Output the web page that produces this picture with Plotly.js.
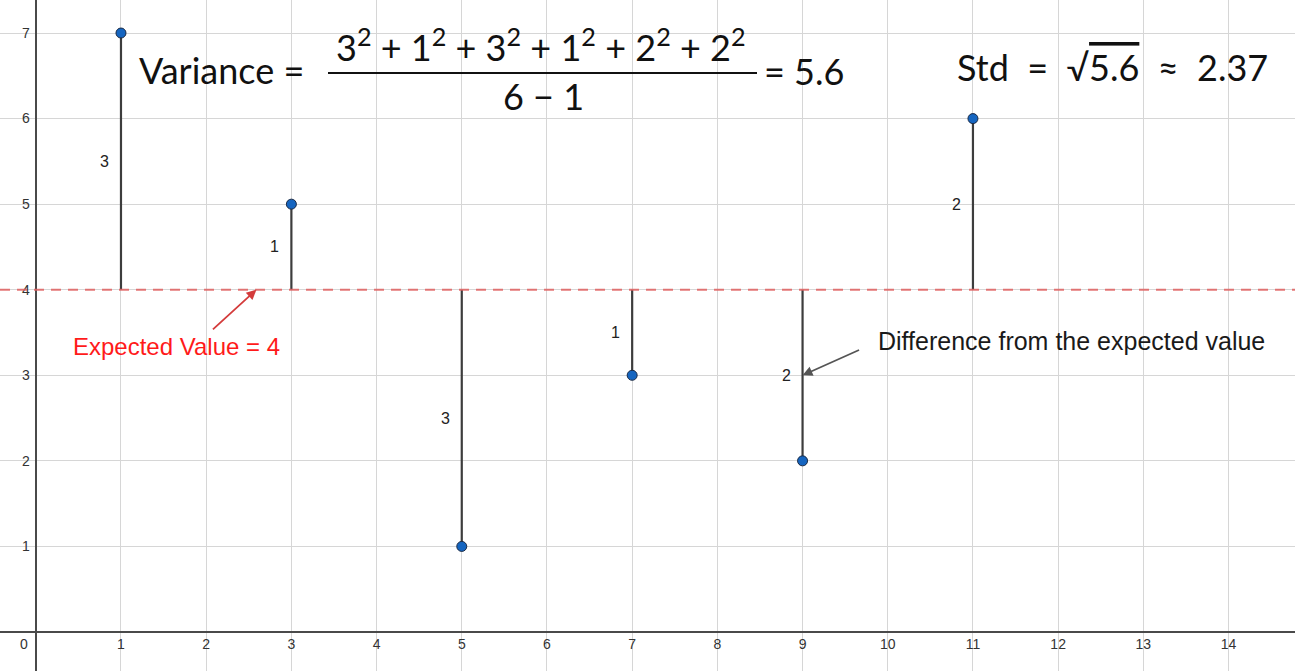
<!DOCTYPE html>
<html>
<head>
<meta charset="utf-8">
<script src="https://cdn.plot.ly/plotly-3.0.1.min.js"></script>
<style>html,body{margin:0;padding:0;background:#fff;}#chart{width:1295px;height:671px;}</style>
</head>
<body>
<div id="chart"></div>
<script>
// ---- data ----
const xValues = [1, 3, 5, 7, 9, 11];
const yValues = [7, 5, 1, 3, 2, 6];
const xTickVals = [1, 2, 3, 4, 5, 6, 7, 8, 9, 10, 11, 12, 13, 14];
const yTickVals = [1, 2, 3, 4, 5, 6, 7];
const expectedLabel = 'Expected Value = 4';
const diffLabel = 'Difference from the expected value';
const varianceLeft = 'Variance =';
const varianceNumerator = '3<sup>2</sup> + 1<sup>2</sup> + 3<sup>2</sup> + 1<sup>2</sup> + 2<sup>2</sup> + 2<sup>2</sup>';
const varianceDenominator = '6 − 1';
const varianceResult = '= 5.6';
const stdText = 'Std&nbsp;&nbsp;=&nbsp;&nbsp;√<span style="text-decoration:overline">5.6</span>&nbsp;&nbsp;≈&nbsp;&nbsp;2.37';

// ---- derived ----
const mean = yValues.reduce((a, b) => a + b, 0) / yValues.length;
const diffs = yValues.map(v => Math.abs(v - mean));

const W = 1295, H = 671;
const xRange = [-0.42, 14.78];
const yRange = [-0.456, 7.386];
const px = p => p / W;
const py = p => 1 - p / H;

const stemX = [], stemY = [];
xValues.forEach((x, i) => { stemX.push(x, x, null); stemY.push(mean, yValues[i], null); });

const traces = [
  { x: stemX, y: stemY, mode: 'lines', line: { color: '#3d3d3d', width: 2.2 }, hoverinfo: 'skip', showlegend: false },
  { x: xValues, y: yValues, mode: 'markers', marker: { size: 10, color: '#1565c0', line: { color: '#1b2a44', width: 1 } }, showlegend: false }
];

const mathFont = { family: 'Lato, "Open Sans", sans-serif', size: 36, color: '#111' };

const annotations = [];
// difference labels
xValues.forEach((x, i) => {
  annotations.push({ x: x, y: (mean + yValues[i]) / 2, xref: 'x', yref: 'y', text: String(diffs[i]),
    showarrow: false, xanchor: 'right', yanchor: 'middle', xshift: -10, font: { family: '"Liberation Sans", Arial', size: 16, color: '#222' } });
});
// origin label
annotations.push({ x: 0, y: 0, xref: 'x', yref: 'y', text: '0', showarrow: false, xanchor: 'center', yanchor: 'middle', xshift: -12, yshift: -12,
  font: { family: '"Liberation Sans Narrow", "Liberation Sans", Arial', size: 14, color: '#333' } });
// expected value label + arrow
annotations.push({ x: px(176), y: py(346), xref: 'paper', yref: 'paper', xanchor: 'center', yanchor: 'middle', text: expectedLabel, showarrow: false,
  font: { family: '"Liberation Sans", Arial, sans-serif', size: 24, color: '#ff1a1a' } });
annotations.push({ x: 2.59, y: mean, xref: 'x', yref: 'y', text: '', showarrow: true, ax: -45, ay: 41,
  arrowhead: 2, arrowsize: 1.1, arrowwidth: 1.8, arrowcolor: '#d43b3b' });
// difference label + arrow
annotations.push({ x: px(876), y: py(341), xref: 'paper', yref: 'paper', xanchor: 'left', yanchor: 'middle', text: diffLabel, showarrow: false,
  font: { family: '"Liberation Sans", Arial, sans-serif', size: 25, color: '#1a1a1a' } });
annotations.push({ x: xValues[4], y: 3, xref: 'x', yref: 'y', text: '', showarrow: true, ax: 58, ay: -26,
  arrowhead: 2, arrowsize: 1.1, arrowwidth: 1.8, arrowcolor: '#555' });
// variance formula
annotations.push({ x: px(137), y: py(70), xref: 'paper', yref: 'paper', xanchor: 'left', yanchor: 'middle', text: varianceLeft, showarrow: false, font: mathFont });
annotations.push({ x: px(541), y: py(45), xref: 'paper', yref: 'paper', xanchor: 'center', yanchor: 'middle', text: varianceNumerator, showarrow: false, font: mathFont });
annotations.push({ x: px(543), y: py(96), xref: 'paper', yref: 'paper', xanchor: 'center', yanchor: 'middle', text: varianceDenominator, showarrow: false, font: mathFont });
annotations.push({ x: px(762), y: py(71), xref: 'paper', yref: 'paper', xanchor: 'left', yanchor: 'middle', text: varianceResult, showarrow: false, font: mathFont });
annotations.push({ x: px(955), y: py(67), xref: 'paper', yref: 'paper', xanchor: 'left', yanchor: 'middle', text: stdText, showarrow: false, font: mathFont });

const shapes = [
  { type: 'line', xref: 'paper', yref: 'y', x0: 0, x1: 1, y0: mean, y1: mean,
    line: { color: 'rgba(224,96,96,0.85)', width: 2, dash: '10px,7px' } },
  { type: 'line', xref: 'paper', yref: 'paper', x0: px(328), x1: px(757), y0: py(73), y1: py(73),
    line: { color: '#111', width: 2 } }
];

const tickFont = { family: '"Liberation Sans Narrow", "Liberation Sans", Arial', size: 14, color: '#333' };

const layout = {
  width: W, height: H,
  margin: { l: 0, r: 0, t: 0, b: 0, pad: 0 },
  paper_bgcolor: '#fff', plot_bgcolor: '#fff',
  showlegend: false,
  xaxis: { range: xRange, tickvals: xTickVals, ticktext: xTickVals.map(String), showgrid: true, gridcolor: '#d6d6d6', gridwidth: 1,
    zeroline: true, zerolinecolor: '#4a4a4a', zerolinewidth: 1.5, ticks: '', showline: false, ticklabelstandoff: 2,
    anchor: 'free', position: (0 - yRange[0]) / (yRange[1] - yRange[0]), tickfont: tickFont, fixedrange: true },
  yaxis: { range: yRange, tickvals: yTickVals, ticktext: yTickVals.map(String), showgrid: true, gridcolor: '#d6d6d6', gridwidth: 1,
    zeroline: true, zerolinecolor: '#4a4a4a', zerolinewidth: 1.5, ticks: '', showline: false, ticklabelstandoff: 6,
    anchor: 'free', position: (0 - xRange[0]) / (xRange[1] - xRange[0]), tickfont: tickFont, fixedrange: true },
  annotations: annotations,
  shapes: shapes
};

Plotly.newPlot('chart', traces, layout, { displayModeBar: false, staticPlot: true });
</script>
</body>
</html>
